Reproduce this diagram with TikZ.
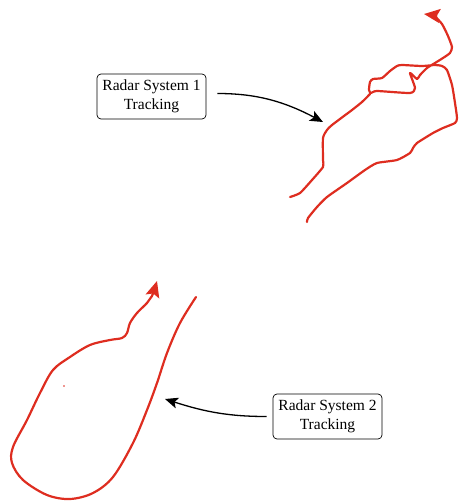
\documentclass[tikz,border=0pt]{standalone}
\usepackage{fontspec}
\setmainfont{Liberation Serif}
\usetikzlibrary{arrows.meta}
\definecolor{trackred}{RGB}{222,45,32}
\tikzset{
  track/.style={draw=trackred, line width=2.2pt, line join=round, line cap=round},
  trackhead/.style={-{Stealth[length=16pt,width=14pt,inset=3pt]}},
  labelbox/.style={draw=black, line width=0.7pt, rounded corners=4pt, fill=white,
    minimum width=109pt, minimum height=45pt, align=center, inner sep=0pt,
    font=\fontsize{15.5}{18.5}\selectfont},
  callout/.style={draw=black, line width=1.3pt, -{Stealth[length=13pt,width=11pt,inset=3pt]}}
}
\begin{document}
\begin{tikzpicture}[x=1pt,y=1pt]
\useasboundingbox (0,0) rectangle (458,-503);

% track of radar system 1: main trace ending at the arrow
\draw[track, trackhead] plot[smooth, tension=0.35] coordinates {
  (307,-222) (308,-218) (317,-207) (327,-197) (347,-183) (365,-170) (377,-163)
  (397,-160) (410,-153) (413,-148) (417,-143) (433,-133) (443,-128) (455,-123)
  (457,-118) (455,-103) (452,-85) (447,-70) (442,-66) (435,-65) (422,-66)
  (402,-65) (397,-66) (390,-71) (382,-78) (373,-79) (370,-82) (369,-90)
  (371,-93) (377,-91) (410,-93) (415,-88) (410,-73) (417,-79) (420,-75)
  (427,-68) (435,-63) (443,-58) (450,-53) (452,-47) (448,-36) (442,-24)
  (434,-16) (424,-14)};
% track of radar system 1: left trace
\draw[track] plot[smooth, tension=0.35] coordinates {
  (290,-197) (300,-193) (312,-180) (323,-167) (323,-160) (323,-138)
  (327,-130) (332,-125) (352,-110) (362,-102) (370,-94)};

% track of radar system 2
\draw[track, trackhead] plot[smooth, tension=0.55] coordinates {
  (196,-297) (180,-323) (167,-353) (157,-383) (147,-410) (133,-443)
  (113,-477) (93,-493) (70,-499) (47,-495) (23,-480) (12,-463) (13,-447)
  (27,-420) (40,-393) (53,-370) (70,-357) (90,-345) (110,-340) (122,-338)
  (127,-333) (130,-323) (137,-313) (147,-303) (152,-296) (157,-281)};
\fill[trackred] (64,-386) circle (0.8pt);

% labels
\node[labelbox] (b1) at (151.5,-96.5) {Radar System 1\\Tracking};
\node[labelbox] (b2) at (327.5,-416.5) {Radar System 2\\Tracking};

\coordinate (t1) at (323,-122);
\coordinate (t2) at (165,-399);

\draw[callout, shorten <=11pt] ([yshift=3pt]b1.east) to[out=0, in=152] (t1);
\draw[callout, shorten <=6pt] (b2.west) to[out=180, in=-18] (t2);
\end{tikzpicture}
\end{document}
